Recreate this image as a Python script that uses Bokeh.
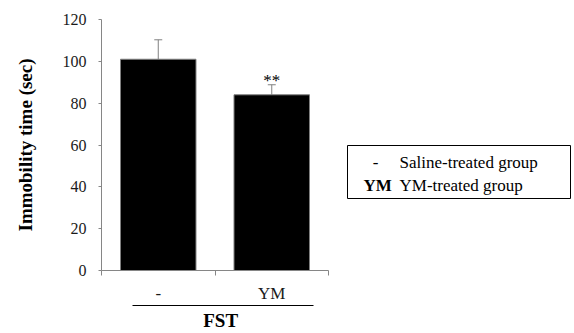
from bokeh.plotting import figure
from bokeh.models import (Range1d, LinearAxis, FixedTicker, Whisker, TeeHead,
                          ColumnDataSource, Label, BoxAnnotation)
from bokeh.core.properties import value
from bokeh.embed import file_html
from bokeh.resources import INLINE

# ---- data ----
categories = ["-", "YM"]
means = [101.0, 84.0]
errors = [9.3, 4.8]
significance = ["", "**"]
y_ticks = [0, 20, 40, 60, 80, 100, 120]
y_label = "Immobility time (sec)"
group_label = "FST"
legend_keys = ["-", "YM"]
legend_texts = ["Saline-treated group", "YM-treated group"]

SERIF = "Liberation Serif"
GRAY = "#868686"

W, H = 574, 333
LEFT, TOP, BOTTOM = 101, 19, 271      # frame edges in pixels
CAT_PX = 113.5                        # pixels per category

n = len(categories)
xs = [i + 0.5 for i in range(n)]
upper = [m + e for m, e in zip(means, errors)]

src = ColumnDataSource(dict(x=xs, mean=means, upper=upper, sig=significance))

p = figure(width=W, height=H, output_backend="svg", toolbar_location=None,
           x_range=Range1d(0, (W - LEFT) / CAT_PX), y_range=Range1d(0, 120),
           x_axis_type=None, y_axis_type=None,
           min_border_left=LEFT, min_border_right=0, min_border_top=TOP,
           min_border_bottom=H - BOTTOM)
p.outline_line_color = None
p.xgrid.visible = False
p.ygrid.visible = False

# bars
p.vbar(x="x", top="mean", width=0.665, source=src, fill_color="black",
       line_color="#7f7f7f", line_width=1)

# error bars (upper only)
p.add_layout(Whisker(source=src, base="x", upper="upper", lower="mean",
                     line_color="#808080", line_width=1,
                     upper_head=TeeHead(size=8, line_color="#808080", line_width=1),
                     lower_head=None))

# significance marks
p.text(x="x", y="upper", text="sig", source=src, text_font=value(SERIF),
       text_font_size="17px", text_align="center", text_baseline="middle",
       y_offset=-4, text_color="black")

# y axis
yax = LinearAxis(ticker=FixedTicker(ticks=y_ticks, minor_ticks=[]))
yax.axis_line_color = GRAY
yax.major_tick_line_color = GRAY
yax.major_tick_out = 3
yax.major_tick_in = 0
yax.minor_tick_line_color = None
yax.major_label_text_font = SERIF
yax.major_label_text_font_size = "16px"
yax.major_label_text_color = "#1a1a1a"
yax.major_label_standoff = 12
yax.axis_label = y_label
yax.axis_label_text_font = SERIF
yax.axis_label_text_font_style = "bold"
yax.axis_label_text_font_size = "19px"
yax.axis_label_text_color = "black"
yax.axis_label_standoff = 24
p.add_layout(yax, "left")

# x axis (category labels, boundary ticks)
xax = LinearAxis(ticker=FixedTicker(ticks=xs, minor_ticks=list(range(n + 1))),
                 bounds=(0, n))
xax.major_label_overrides = {x: c for x, c in zip(xs, categories)}
xax.axis_line_color = GRAY
xax.major_tick_line_color = None
xax.major_tick_out = 0
xax.major_tick_in = 0
xax.minor_tick_line_color = GRAY
xax.minor_tick_out = 5
xax.minor_tick_in = 0
xax.major_label_text_font = SERIF
xax.major_label_text_font_size = "17px"
xax.major_label_text_color = "#1a1a1a"
xax.major_label_standoff = 8
p.add_layout(xax, "below")

# group underline + group label (as a single tick label centred on the line)
g_lo, g_hi = 0.27, 1.87
g_mid = round((g_lo + g_hi) / 2 - 0.02, 2)
gax = LinearAxis(ticker=FixedTicker(ticks=[g_mid], minor_ticks=[]), bounds=(g_lo, g_hi))
gax.major_label_overrides = {g_mid: group_label}
gax.axis_line_color = "black"
gax.axis_line_width = 1
gax.major_tick_line_color = None
gax.minor_tick_line_color = None
gax.major_tick_out = 0
gax.major_tick_in = 0
gax.major_label_standoff = 4
gax.major_label_text_font = SERIF
gax.major_label_text_font_style = "bold"
gax.major_label_text_font_size = "19px"
gax.major_label_text_color = "black"
p.add_layout(gax, "below")

# legend box (screen units relative to frame bottom-left)
p.add_layout(BoxAnnotation(left=347 - LEFT, right=570 - LEFT,
                           bottom=BOTTOM - 199, top=BOTTOM - 146,
                           left_units="screen", right_units="screen",
                           bottom_units="screen", top_units="screen",
                           fill_color=None, fill_alpha=0, line_color="black",
                           line_width=1, line_alpha=1))
rows_y = [BOTTOM - 163, BOTTOM - 186]
for key, txt, yy in zip(legend_keys, legend_texts, rows_y):
    bold = key != "-"
    p.add_layout(Label(x=(375 if not bold else 363) - LEFT, y=yy,
                       x_units="screen", y_units="screen",
                       text=key, text_font=SERIF,
                       text_font_style="bold" if bold else "normal",
                       text_font_size="17px", text_color="black",
                       text_align="center" if not bold else "left",
                       text_baseline="middle"))
    p.add_layout(Label(x=399 - LEFT, y=yy, x_units="screen", y_units="screen",
                       text=txt, text_font=SERIF, text_font_size="17px",
                       text_color="black", text_align="left",
                       text_baseline="middle"))

open("out.html", "w").write(file_html(p, INLINE))
